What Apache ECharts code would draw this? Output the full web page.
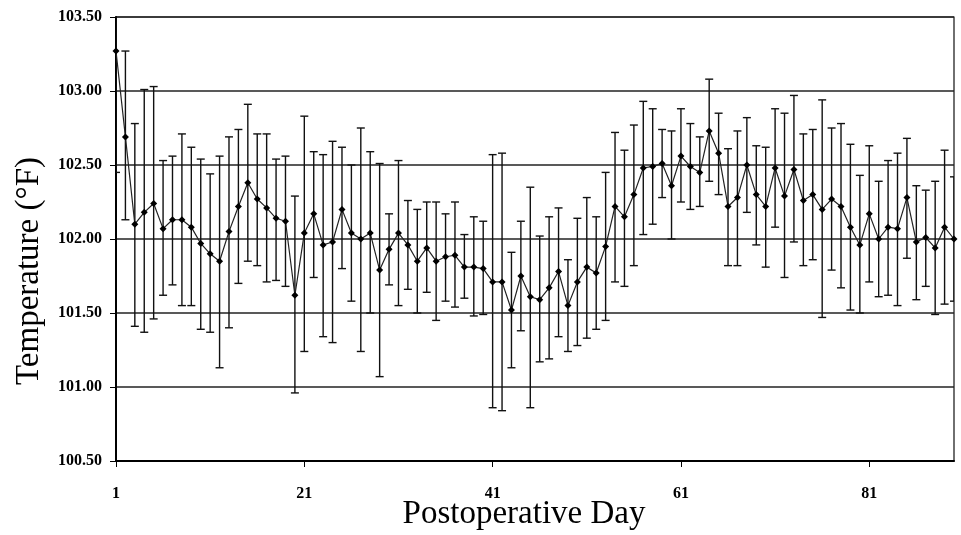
<!DOCTYPE html>
<html>
<head>
<meta charset="utf-8">
<script src="https://cdn.jsdelivr.net/npm/echarts@6/dist/echarts.min.js"></script>
<style>
  html, body { margin: 0; padding: 0; background: #fff; }
  #chart { width: 961px; height: 535px; }
</style>
</head>
<body>
<div id="chart"></div>
<script>
// Postoperative day categories
const days = [1,2,3,4,5,6,7,8,9,10,11,12,13,14,15,16,17,18,19,20,
  21,22,23,24,25,26,27,28,29,30,31,32,33,34,35,36,37,38,39,40,
  41,42,43,44,45,46,47,48,49,50,51,52,53,54,55,56,57,58,59,60,
  61,62,63,64,65,66,67,68,69,70,71,72,73,74,75,76,77,78,79,80,
  81,82,83,84,85,86,87,88,89,90];

// Mean temperature (°F)
const meanTemp = [103.27,102.69,102.10,102.18,102.24,102.07,102.13,102.13,102.08,101.97,
  101.90,101.85,102.05,102.22,102.38,102.27,102.21,102.14,102.12,101.62,
  102.04,102.17,101.96,101.98,102.20,102.04,102.00,102.04,101.79,101.93,
  102.04,101.96,101.85,101.94,101.85,101.88,101.89,101.81,101.81,101.80,
  101.71,101.71,101.52,101.75,101.61,101.59,101.67,101.78,101.55,101.71,
  101.81,101.77,101.95,102.22,102.15,102.30,102.48,102.49,102.51,102.36,
  102.56,102.49,102.45,102.73,102.58,102.22,102.28,102.50,102.30,102.22,
  102.48,102.29,102.47,102.26,102.30,102.20,102.27,102.22,102.08,101.96,
  102.17,102.00,102.08,102.07,102.28,101.98,102.01,101.94,102.08,102.00];

// Error bar lower ends
const lowerTemp = [102.45,102.13,101.41,101.37,101.46,101.62,101.69,101.55,101.55,101.39,
  101.37,101.13,101.40,101.70,101.85,101.82,101.71,101.72,101.68,100.96,
  101.24,101.74,101.34,101.30,101.80,101.58,101.24,101.50,101.07,101.69,
  101.55,101.66,101.50,101.64,101.45,101.58,101.54,101.60,101.48,101.49,
  100.86,100.84,101.13,101.38,100.86,101.17,101.19,101.34,101.24,101.28,
  101.33,101.39,101.45,101.71,101.68,101.82,102.03,102.10,102.28,102.00,
  102.25,102.20,102.22,102.39,102.30,101.82,101.82,102.18,101.96,101.81,
  102.08,101.74,101.98,101.82,101.86,101.47,101.79,101.67,101.52,101.50,
  101.71,101.61,101.62,101.55,101.87,101.59,101.68,101.49,101.56,101.58];

// Error bar upper ends
const upperTemp = [104.10,103.27,102.78,103.01,103.03,102.53,102.56,102.71,102.62,102.54,
  102.44,102.56,102.69,102.74,102.91,102.71,102.71,102.54,102.56,102.29,
  102.83,102.59,102.57,102.66,102.62,102.50,102.75,102.59,102.51,102.17,
  102.53,102.26,102.20,102.25,102.25,102.17,102.25,102.03,102.15,102.12,
  102.57,102.58,101.91,102.12,102.35,102.02,102.15,102.21,101.86,102.14,
  102.28,102.15,102.45,102.72,102.60,102.77,102.93,102.88,102.74,102.73,
  102.88,102.78,102.69,103.08,102.85,102.61,102.73,102.82,102.63,102.62,
  102.88,102.85,102.97,102.71,102.74,102.94,102.75,102.78,102.64,102.43,
  102.63,102.39,102.53,102.58,102.68,102.36,102.33,102.39,102.60,102.42];

const yMin = 100.5, yMax = 103.5, yStep = 0.5;
const xTitle = 'Postoperative Day';
const yTitle = 'Temperature (°F)';

const serif = "'Liberation Serif', 'Times New Roman', serif";
const chart = echarts.init(document.getElementById('chart'), null, { renderer: 'canvas' });

const errData = days.map((d, i) => [i, lowerTemp[i], upperTemp[i]]);

chart.setOption({
  animation: false,
  backgroundColor: '#ffffff',
  grid: {
    left: 116, right: 7, top: 17, bottom: 74,
    show: true, borderColor: '#111', borderWidth: 1.2, backgroundColor: 'transparent'
  },
  graphic: [
    {
      type: 'text', x: 524, y: 514,
      style: { text: xTitle, font: "33px " + serif, fill: '#000', align: 'center', verticalAlign: 'middle' }
    },
    {
      type: 'text', x: 29, y: 271, rotation: Math.PI / 2,
      style: { text: yTitle, font: "33px " + serif, fill: '#000', align: 'center', verticalAlign: 'middle' }
    }
  ],
  xAxis: {
    type: 'category',
    data: days,
    boundaryGap: false,
    axisLine: { show: true, lineStyle: { color: '#000', width: 2 } },
    axisTick: { show: true, interval: 19, length: 6, lineStyle: { color: '#000', width: 1 } },
    axisLabel: { interval: 19, margin: 25, fontFamily: serif, fontSize: 16, fontWeight: 'bold', color: '#000' },
    splitLine: { show: false }
  },
  yAxis: {
    type: 'value',
    min: yMin, max: yMax, interval: yStep,
    axisLine: { show: true, lineStyle: { color: '#000', width: 2 } },
    axisTick: { show: true, length: 6, lineStyle: { color: '#000', width: 1 } },
    axisLabel: {
      margin: 14, fontFamily: serif, fontSize: 16, fontWeight: 'bold', color: '#000',
      formatter: v => v.toFixed(2)
    },
    splitLine: { show: true, lineStyle: { color: '#222', width: 1.5 } }
  },
  series: [
    {
      type: 'custom',
      name: 'SD',
      clip: true,
      encode: { x: 0, y: [1, 2] },
      data: errData,
      z: 3,
      renderItem: function (params, api) {
        const idx = api.value(0);
        const pLo = api.coord([idx, api.value(1)]);
        const pHi = api.coord([idx, api.value(2)]);
        const w = 4;
        const st = { stroke: '#111', lineWidth: 1.4 };
        return {
          type: 'group',
          children: [
            { type: 'line', shape: { x1: pHi[0], y1: pHi[1], x2: pLo[0], y2: pLo[1] }, style: st },
            { type: 'line', shape: { x1: pHi[0] - w, y1: pHi[1], x2: pHi[0] + w, y2: pHi[1] }, style: st },
            { type: 'line', shape: { x1: pLo[0] - w, y1: pLo[1], x2: pLo[0] + w, y2: pLo[1] }, style: st }
          ]
        };
      }
    },
    {
      type: 'line',
      name: 'Mean',
      data: meanTemp,
      z: 4,
      symbol: 'diamond',
      symbolSize: 7,
      showSymbol: true,
      showAllSymbol: true,
      itemStyle: { color: '#000' },
      lineStyle: { color: '#222', width: 1.2 }
    }
  ]
});
</script>
</body>
</html>
